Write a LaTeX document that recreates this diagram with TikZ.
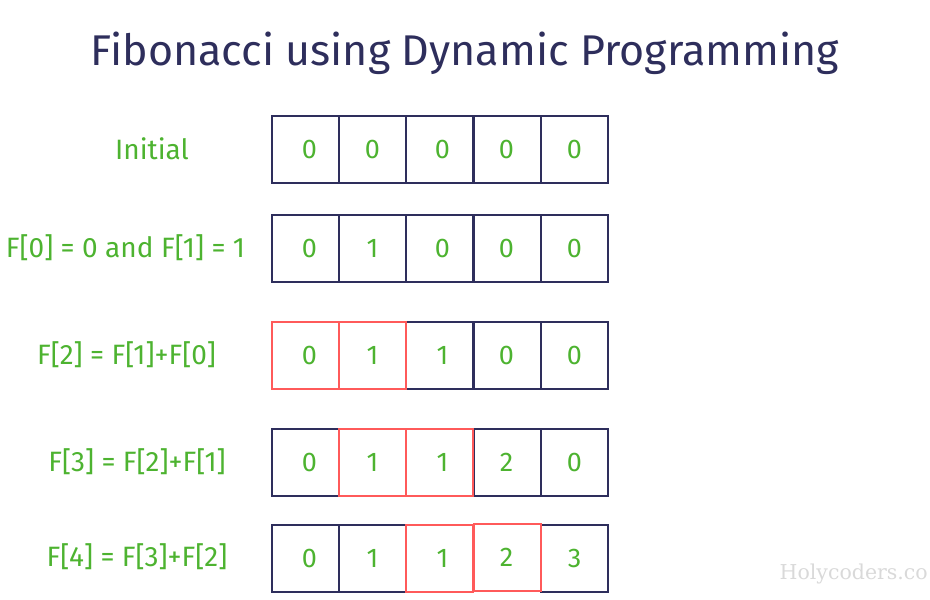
\documentclass[tikz,border=0pt]{standalone}
\usepackage{fontspec}
\setmainfont{Fira Sans}
\newfontfamily\wmfont{DejaVu Serif}
\definecolor{navy}{HTML}{2E2E5C}
\definecolor{hired}{HTML}{FF5A5A}
\definecolor{fgreen}{HTML}{4DB330}
\definecolor{wmgray}{HTML}{D9D9D9}
\tikzset{
  cell/.style={draw=navy, line width=2pt, minimum width=67pt, minimum height=67pt, inner sep=0pt, anchor=north west},
  redcell/.style={cell, draw=hired},
  digit/.style={text=fgreen, font=\fontsize{27}{30}\selectfont, inner sep=0pt},
  rowlabel/.style={text=fgreen, font=\fontsize{28}{32}\selectfont, inner sep=0pt},
  title/.style={text=navy, font=\fontsize{43}{48}\selectfont, inner sep=0pt}
}
\begin{document}
\begin{tikzpicture}[x=1pt,y=-1pt]
\useasboundingbox (0,0) rectangle (930,600);
\node[title] (title) at (465,53) {Fibonacci using Dynamic Programming};
% row labels
\node[rowlabel] (l1) at (152,149) {Initial};
\node[rowlabel] (l2) at (125.5,248) {F[0] = 0 and F[1] = 1};
\node[rowlabel] (l3) at (126.5,355) {F[2] = F[1]+F[0]};
\node[rowlabel] (l4) at (137,462) {F[3] = F[2]+F[1]};
\node[rowlabel] (l5) at (137,557) {F[4] = F[3]+F[2]};
% row 1
\node[cell] (c11) at (271,115) {};
\node[cell] (c12) at (338,115) {};
\node[cell] (c13) at (405,115) {};
\node[cell] (c14) at (473,115) {};
\node[cell] (c15) at (540,115) {};
% row 2
\node[cell] (c21) at (271,214) {};
\node[cell] (c22) at (338,214) {};
\node[cell] (c23) at (405,214) {};
\node[cell] (c24) at (473,214) {};
\node[cell] (c25) at (540,214) {};
% row 3
\node[cell] (c33) at (405,321) {};
\node[cell] (c34) at (473,321) {};
\node[cell] (c35) at (540,321) {};
\node[redcell] (c31) at (271,321) {};
\node[redcell] (c32) at (338,321) {};
% row 4
\node[cell] (c41) at (271,428) {};
\node[cell] (c44) at (473,428) {};
\node[cell] (c45) at (540,428) {};
\node[redcell] (c42) at (338,428) {};
\node[redcell] (c43) at (405,428) {};
% row 5
\node[cell] (c51) at (271,524) {};
\node[cell] (c52) at (338,524) {};
\node[cell] (c55) at (540,524) {};
\node[redcell] (c53) at (405,524) {};
\node[redcell] (c54) at (473,523) {};
% digits
\foreach \r/\a/\b/\c/\d/\e in {1/0/0/0/0/0, 2/0/1/0/0/0, 3/0/1/1/0/0, 4/0/1/1/2/0, 5/0/1/1/2/3}{
  \node[digit] (d\r1) at ([xshift=4pt]c\r1.center) {\a};
  \node[digit] (d\r2) at (c\r2.center) {\b};
  \node[digit] (d\r3) at ([xshift=3pt]c\r3.center) {\c};
  \node[digit] (d\r4) at ([xshift=-1pt]c\r4.center) {\d};
  \node[digit] (d\r5) at (c\r5.center) {\e};
}
% watermark
\node[text=wmgray, font=\wmfont\fontsize{20.5}{24}\selectfont, anchor=base east, inner sep=0pt] (wm) at (928,579) {Holycoders.co};
\end{tikzpicture}
\end{document}
